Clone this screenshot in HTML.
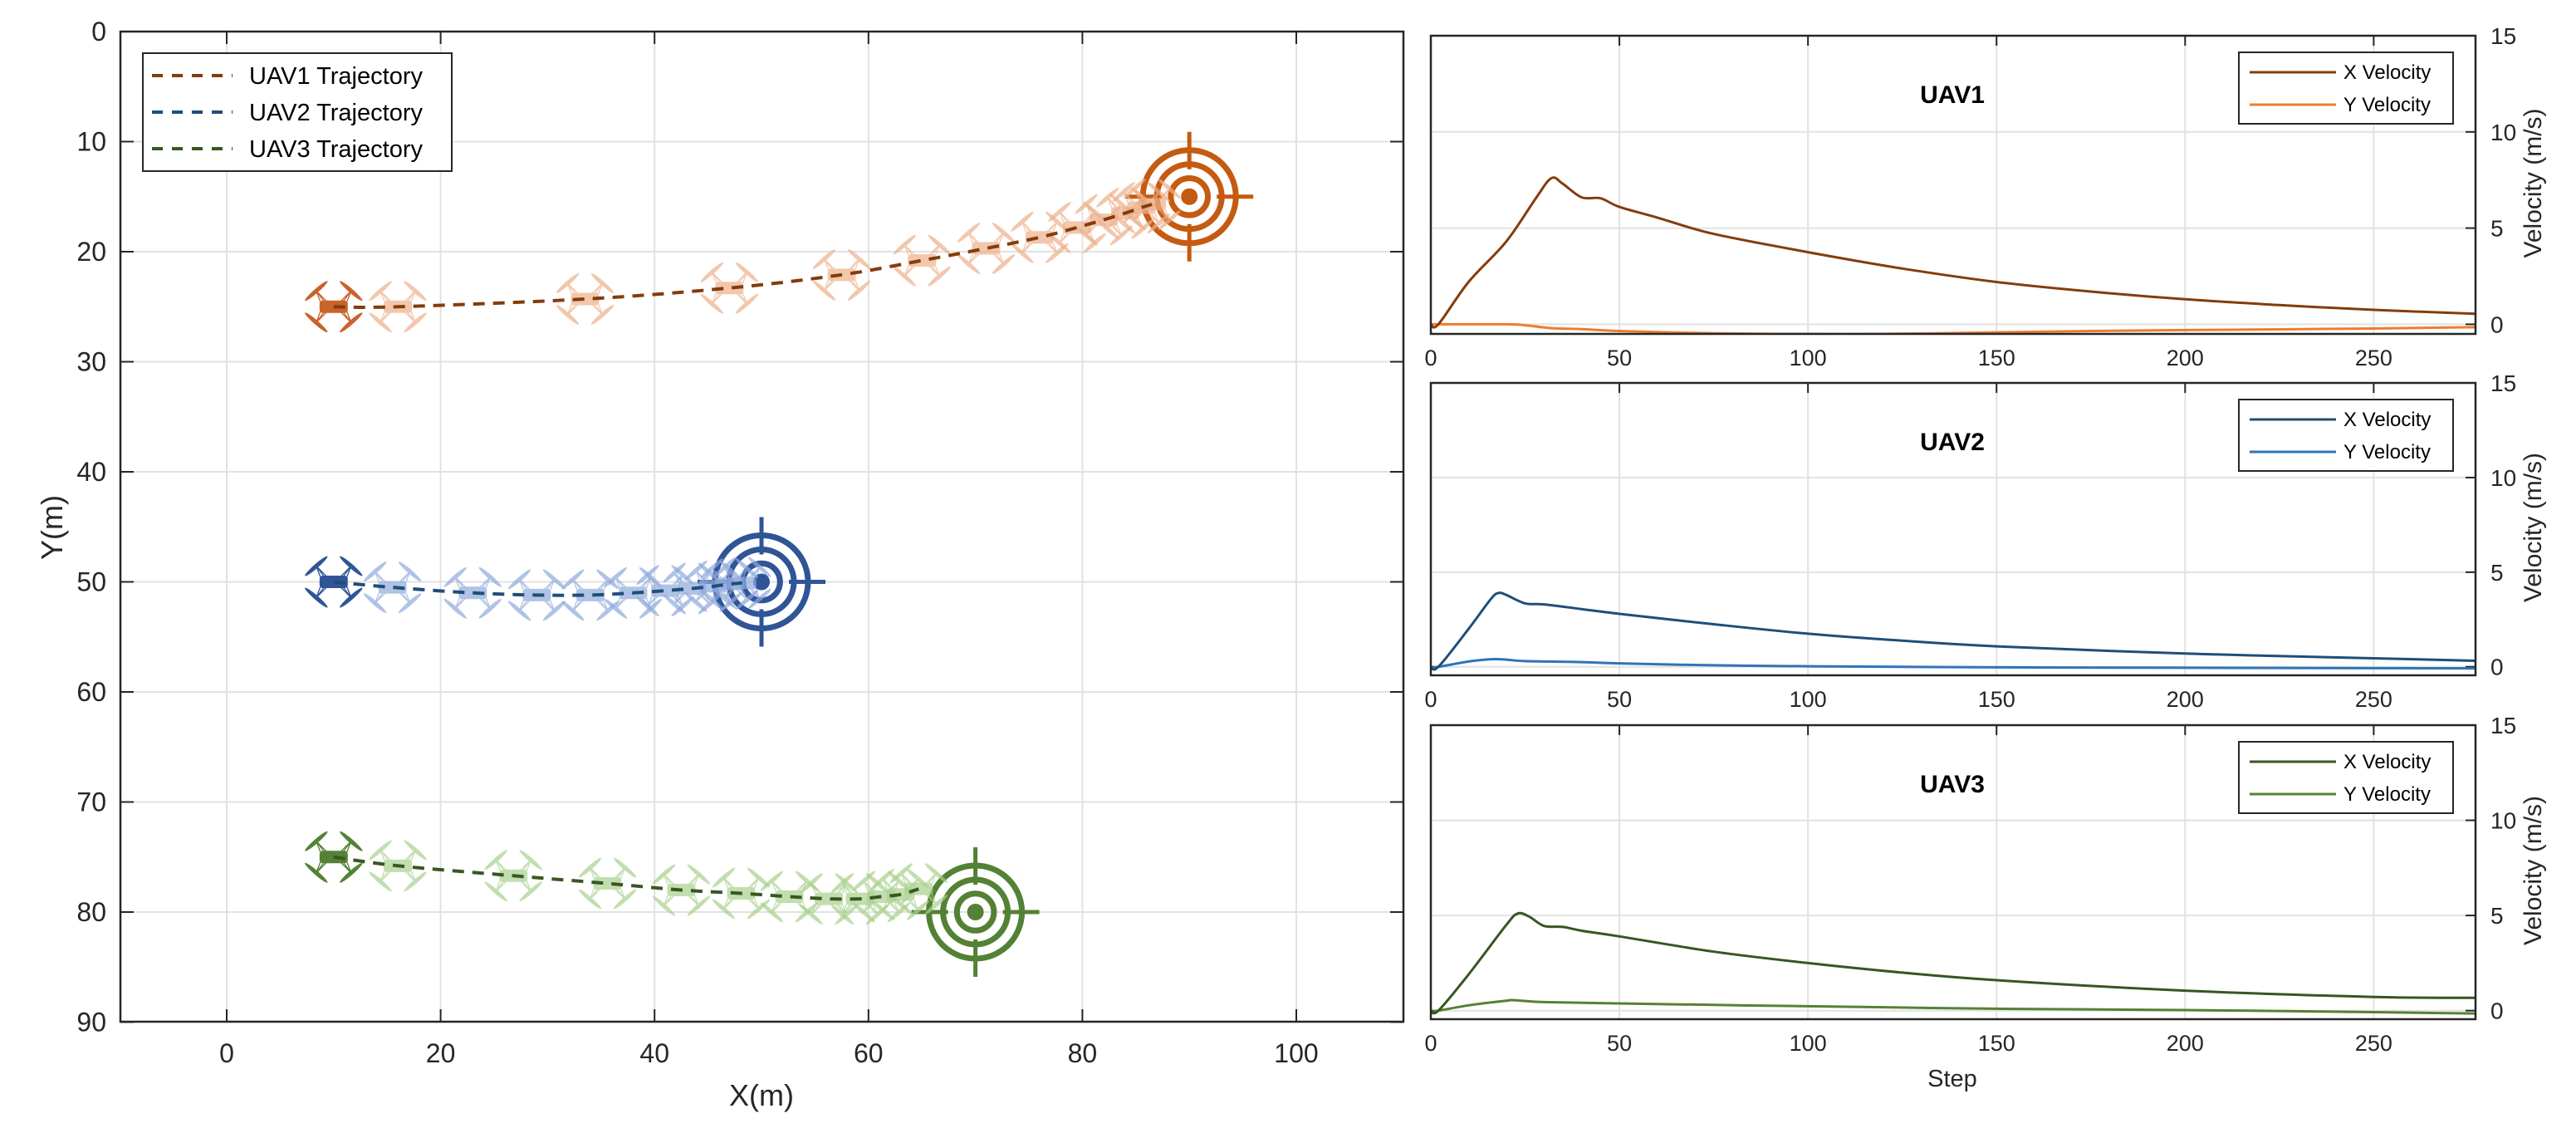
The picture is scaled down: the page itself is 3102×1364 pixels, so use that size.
<!DOCTYPE html>
<html><head><meta charset="utf-8"><style>
html,body{margin:0;padding:0;background:#fff;}
svg{display:block;font-family:"Liberation Sans",Arial,sans-serif;}
</style></head><body>
<svg id="fig" width="3102" height="1364" viewBox="0 0 3102 1364" xmlns="http://www.w3.org/2000/svg">
<rect x="0" y="0" width="3102" height="1364" fill="#fff"/>
<g id="left"></g>
<g id="right"></g>
</svg>
<script>
// ---------- Trajectory data ----------
const uav1X=[10,16,33.5,47,57.5,65,71,76,79.5,82,84,85.5,86.5];
const uav1Y=[25,25,24.3,23.3,22.1,20.8,19.7,18.7,17.8,17.1,16.5,16,15.7];
const uav2X=[10,15.5,23,29,34,38,41,43.5,45.5,47,48.2];
const uav2Y=[50,50.5,51,51.2,51.2,51,50.8,50.6,50.4,50.2,50.1];
const uav3X=[10,16,26.8,35.6,42.5,48.1,52.6,56.3,59.2,61.2,63,64.7];
const uav3Y=[75,75.8,76.7,77.4,78,78.3,78.6,78.8,78.8,78.6,78.4,77.9];
const targetX=[90,50,70];
const targetY=[15,50,80];
const xTicks=[0,20,40,60,80,100];
const yTicks=[0,10,20,30,40,50,60,70,80,90];
// ---------- Velocity data ----------
const v1xSteps=[0,2,10,20,28,32,35,40,45,50,60,75,100,125,150,175,200,225,250,277];
const v1xVals=[0,0,2.2,4.3,6.6,7.6,7.3,6.6,6.55,6.1,5.55,4.7,3.75,2.9,2.2,1.7,1.3,1.0,0.75,0.55];
const v1ySteps=[0,20,25,32,40,50,70,90,120,150,175,200,250,277];
const v1yVals=[0,0,-0.05,-0.2,-0.25,-0.35,-0.45,-0.5,-0.5,-0.42,-0.35,-0.3,-0.22,-0.15];
const v2xSteps=[0,2,10,16,18,20,25,30,40,50,75,100,125,150,200,250,277];
const v2xVals=[0,0,2.0,3.6,3.9,3.8,3.35,3.3,3.05,2.8,2.25,1.75,1.38,1.08,0.7,0.45,0.32];
const v2ySteps=[0,2,10,16,20,25,40,50,75,100,150,200,277];
const v2yVals=[0,0,0.28,0.4,0.38,0.3,0.25,0.18,0.08,0.03,-0.03,-0.05,-0.08];
const v3xSteps=[0,2,10,20,23,26,30,35,40,50,75,100,125,150,200,250,277];
const v3xVals=[0,0,1.9,4.5,5.1,4.95,4.45,4.4,4.2,3.9,3.1,2.5,2.0,1.6,1.05,0.72,0.67];
const v3ySteps=[0,2,10,20,22,30,50,75,100,150,200,250,277];
const v3yVals=[0,0,0.28,0.52,0.55,0.45,0.38,0.3,0.23,0.1,0.03,-0.08,-0.15];
const stepTicks=[0,50,100,150,200,250];
const velTicks=[0,5,10,15];

const NS='http://www.w3.org/2000/svg';
function mk(parent,tag,attrs,text){const e=document.createElementNS(NS,tag);for(const k in attrs)e.setAttribute(k,attrs[k]);if(text!==undefined)e.textContent=text;parent.appendChild(e);return e;}
const TXT='#262626';
function smooth(pts){
  let d='M'+pts[0][0].toFixed(1)+','+pts[0][1].toFixed(1);
  for(let i=0;i<pts.length-1;i++){
    const p0=pts[Math.max(0,i-1)],p1=pts[i],p2=pts[i+1],p3=pts[Math.min(pts.length-1,i+2)];
    const c1=[p1[0]+(p2[0]-p0[0])/6,p1[1]+(p2[1]-p0[1])/6];
    const c2=[p2[0]-(p3[0]-p1[0])/6,p2[1]-(p3[1]-p1[1])/6];
    d+='C'+c1[0].toFixed(1)+','+c1[1].toFixed(1)+' '+c2[0].toFixed(1)+','+c2[1].toFixed(1)+' '+p2[0].toFixed(1)+','+p2[1].toFixed(1);
  }
  return d;
}

// ---------- Left chart ----------
const L=document.getElementById('left');
const LX0=145,LX1=1690,LY0=38,LY1=1230;
const sx=x=>273+x*12.88;
const sy=y=>38+y*13.25;
let e;
e=mk(L,'rect',{x:LX0,y:LY0,width:LX1-LX0,height:LY1-LY0,fill:'#fff'});


xTicks.forEach(t=>{
  e=mk(L,'line',{x1:sx(t),x2:sx(t),y1:LY0,y2:LY1,stroke:'#e2e2e2','stroke-width':2});
  
  
  mk(L,'line',{x1:sx(t),x2:sx(t),y1:LY0,y2:LY0+15,stroke:TXT,'stroke-width':2});
  mk(L,'line',{x1:sx(t),x2:sx(t),y1:LY1,y2:LY1-15,stroke:TXT,'stroke-width':2});
  e=mk(L,'text',{x:sx(t),y:1279,'font-size':32,'text-anchor':'middle',fill:TXT},t);
  
  
});
yTicks.forEach(t=>{
  e=mk(L,'line',{x1:LX0,x2:LX1,y1:sy(t),y2:sy(t),stroke:'#e2e2e2','stroke-width':2});
  
  
  mk(L,'line',{x1:LX0,x2:LX0+16,y1:sy(t),y2:sy(t),stroke:TXT,'stroke-width':2});
  mk(L,'line',{x1:LX1,x2:LX1-16,y1:sy(t),y2:sy(t),stroke:TXT,'stroke-width':2});
  e=mk(L,'text',{x:128,y:sy(t)+11,'font-size':32,'text-anchor':'end',fill:TXT},t);
  
  
});

function drone(g,cx,cy,col,op){
  const d=mk(g,'g',{transform:`translate(${cx},${cy})`,opacity:op});
  
  
  const pts=[[-21,-19,-41],[21,-19,41],[-21,19,41],[21,19,-41]];
  mk(d,'path',{d:'M-21,-19 L-8,-6 M21,-19 L8,-6 M-21,19 L-8,6 M21,19 L8,6 M-21,-19 L-12,-7 M-21,-19 L-16,-6 M21,-19 L12,-7 M21,-19 L16,-6 M-21,19 L-12,7 M-21,19 L-16,6 M21,19 L12,7 M21,19 L16,6',stroke:col,'stroke-width':1.3,fill:'none'});
  pts.forEach(p=>mk(d,'ellipse',{cx:p[0],cy:p[1],rx:18,ry:2.6,fill:col,transform:`rotate(${p[2]} ${p[0]} ${p[1]})`}));
  mk(d,'rect',{x:-17,y:-7.5,width:34,height:15,rx:4,fill:col});
}
function target(g,cx,cy,col){
  const t=mk(g,'g',{});
  
  
  [56,39,22.3].forEach(r=>mk(t,'circle',{cx:cx,cy:cy,r:r,fill:'none',stroke:col,'stroke-width':7}));
  mk(t,'circle',{cx:cx,cy:cy,r:10,fill:col});
  mk(t,'path',{d:`M${cx},${cy-78}V${cy-33}M${cx},${cy+33}V${cy+78}M${cx-77},${cy}H${cx-33}M${cx+33},${cy}H${cx+77}`,stroke:col,'stroke-width':5});
}
const uavs=[
 {xs:uav1X,ys:uav1Y,dark:'#C8632A',light:'#EDB08A',line:'#843C0C',tgt:'#C55A11'},
 {xs:uav2X,ys:uav2Y,dark:'#2F5597',light:'#8FAADC',line:'#1F4E79',tgt:'#2F5597'},
 {xs:uav3X,ys:uav3Y,dark:'#548235',light:'#A9D18E',line:'#385723',tgt:'#538135'}];
uavs.forEach((u,i)=>{
  const g=mk(L,'g',{});
  
  
  target(g,sx(targetX[i]),sy(targetY[i]),u.tgt);
  for(let k=u.xs.length-1;k>=1;k--) drone(g,sx(u.xs[k]),sy(u.ys[k]),u.light,0.7);
  drone(g,sx(u.xs[0]),sy(u.ys[0]),u.dark,1);
  const d=smooth(u.xs.map((x,k)=>[sx(x),sy(u.ys[k])]));
  e=mk(g,'path',{d:d,fill:'none',stroke:u.line,'stroke-width':4,'stroke-dasharray':'14 10'});
  
  
});
e=mk(L,'rect',{x:LX0,y:LY0,width:LX1-LX0,height:LY1-LY0,fill:'none',stroke:TXT,'stroke-width':2.5});


// legend
const lg=mk(L,'g',{});


mk(lg,'rect',{x:172,y:64,width:372,height:142,fill:'#fff',stroke:TXT,'stroke-width':2});
['UAV1 Trajectory','UAV2 Trajectory','UAV3 Trajectory'].forEach((s,i)=>{
  const yy=91+i*44;
  mk(lg,'line',{x1:183,x2:280,y1:yy,y2:yy,stroke:uavs[i].line,'stroke-width':4,'stroke-dasharray':'13 11'});
  e=mk(lg,'text',{x:300,y:yy+10,'font-size':29,fill:'#000'},s);
  
  
});
e=mk(L,'text',{x:917,y:1331,'font-size':36,'text-anchor':'middle',fill:TXT},'X(m)');


e=mk(L,'text',{x:0,y:0,'font-size':36,'text-anchor':'middle',fill:TXT,transform:'translate(75,635) rotate(-90)'},'Y(m)');



// ---------- Right charts ----------
const R=document.getElementById('right');
const RX0=1723,RX1=2981;
const px=s=>RX0+s*(RX1-RX0)/277;
const panels=[
 {top:43,bot:402,ymin:-0.5,title:'UAV1',xs:v1xSteps,xv:v1xVals,ys:v1ySteps,yv:v1yVals,cx:'#843C0C',cy:'#ED7D31'},
 {top:461,bot:813,ymin:-0.45,title:'UAV2',xs:v2xSteps,xv:v2xVals,ys:v2ySteps,yv:v2yVals,cx:'#1F4E79',cy:'#2E75B6'},
 {top:873,bot:1227,ymin:-0.45,title:'UAV3',xs:v3xSteps,xv:v3xVals,ys:v3ySteps,yv:v3yVals,cx:'#375623',cy:'#548235'}];
panels.forEach((p,i)=>{
  const g=mk(R,'g',{});
  
  
  const py=v=>p.bot-(v-p.ymin)*(p.bot-p.top)/(15-p.ymin);
  const cid='clip'+i;
  const cp=mk(g,'clipPath',{id:cid});mk(cp,'rect',{x:RX0,y:p.top,width:RX1-RX0,height:p.bot-p.top});
  stepTicks.forEach(t=>{
    mk(g,'line',{x1:px(t),x2:px(t),y1:p.top,y2:p.bot,stroke:'#e2e2e2','stroke-width':2});
    mk(g,'line',{x1:px(t),x2:px(t),y1:p.top,y2:p.top+12,stroke:TXT,'stroke-width':2});
    e=mk(g,'text',{x:px(t),y:p.bot+38,'font-size':27,'text-anchor':'middle',fill:TXT},t);
    
    
  });
  velTicks.forEach(t=>{
    mk(g,'line',{x1:RX0,x2:RX1,y1:py(t),y2:py(t),stroke:'#e2e2e2','stroke-width':2});
    mk(g,'line',{x1:RX1-12,x2:RX1,y1:py(t),y2:py(t),stroke:TXT,'stroke-width':2});
    e=mk(g,'text',{x:2999,y:py(t)+10,'font-size':28,fill:TXT},t);
    
    
  });
  const dx=smooth(p.xs.map((s,k)=>[px(s),py(p.xv[k])]));
  const dy=smooth(p.ys.map((s,k)=>[px(s),py(p.yv[k])]));
  e=mk(g,'path',{d:dy,fill:'none',stroke:p.cy,'stroke-width':3,'clip-path':`url(#${cid})`,'stroke-linejoin':'round'});
  
  
  e=mk(g,'path',{d:dx,fill:'none',stroke:p.cx,'stroke-width':3,'clip-path':`url(#${cid})`,'stroke-linejoin':'round'});
  
  
  mk(g,'rect',{x:RX0,y:p.top,width:RX1-RX0,height:p.bot-p.top,fill:'none',stroke:TXT,'stroke-width':2.5});
  e=mk(g,'text',{x:2351,y:p.top+81,'font-size':30,'font-weight':'bold','text-anchor':'middle',fill:'#000'},p.title);
  
  
  const lgd=mk(g,'g',{});
  
  
  const lt=p.top+20;
  mk(lgd,'rect',{x:2696,y:lt,width:258,height:86,fill:'#fff',stroke:TXT,'stroke-width':2});
  [['X Velocity',p.cx],['Y Velocity',p.cy]].forEach((it,k)=>{
    const yy=lt+24+k*39;
    mk(lgd,'line',{x1:2709,x2:2813,y1:yy,y2:yy,stroke:it[1],'stroke-width':3});
    e=mk(lgd,'text',{x:2822,y:yy+8,'font-size':24,fill:'#000'},it[0]);
    
    
  });
  e=mk(g,'text',{x:0,y:0,'font-size':30,'text-anchor':'middle',fill:TXT,transform:`translate(3060,${(p.top+p.bot)/2-2}) rotate(-90)`},'Velocity (m/s)');
  
  
});
e=mk(R,'text',{x:2351,y:1308,'font-size':29,'text-anchor':'middle',fill:TXT},'Step');


</script>
</body></html>
